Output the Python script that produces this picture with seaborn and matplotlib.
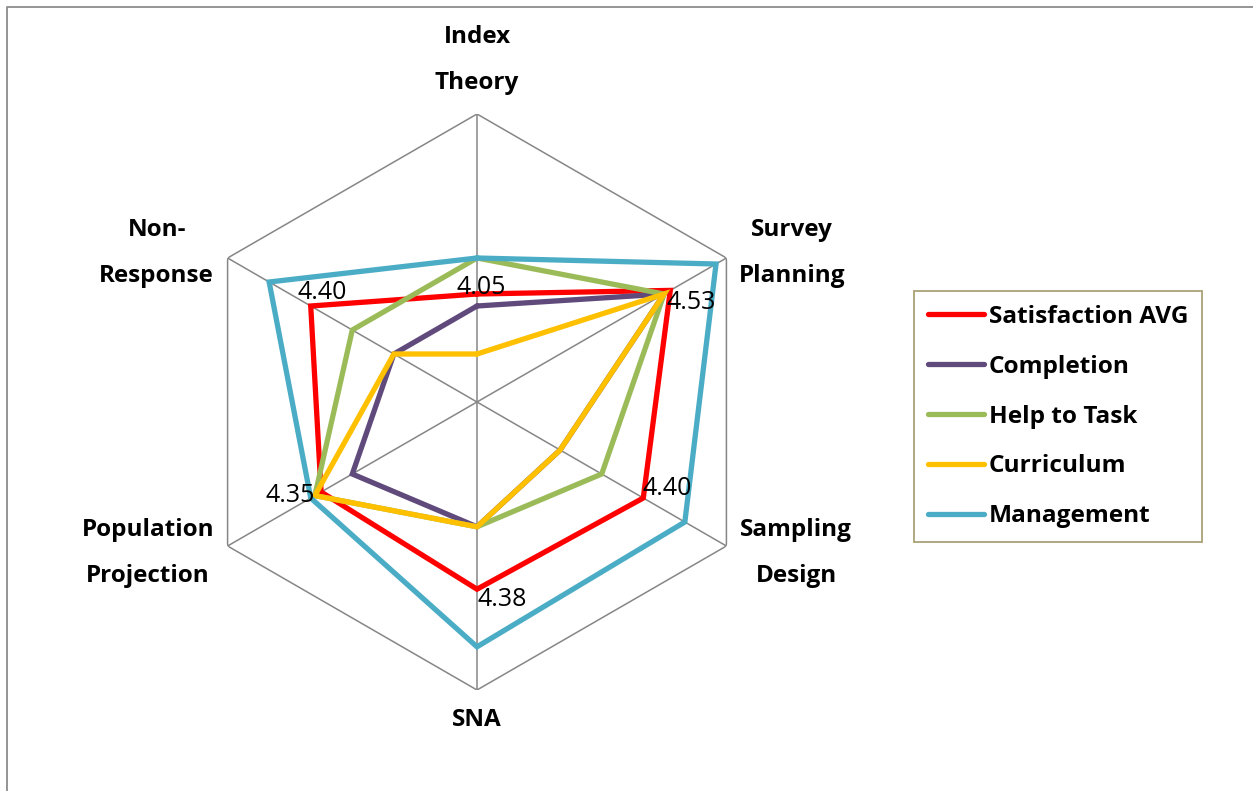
import numpy as np
import pandas as pd
import matplotlib
matplotlib.use('Agg')
import matplotlib.pyplot as plt
from matplotlib.lines import Line2D
import seaborn as sns

# Datos
categories = ['Index\nTheory', 'Survey\nPlanning', 'Sampling\nDesign', 'SNA',
              'Population\nProjection', 'Non-\nResponse']
series_names = ['Satisfaction AVG', 'Completion', 'Help to Task', 'Curriculum', 'Management']
satisfaction = [4.05, 4.53, 4.40, 4.38, 4.35, 4.40]
completion = [4.00, 4.50, 4.00, 4.12, 4.20, 4.00]
help_to_task = [4.20, 4.50, 4.20, 4.12, 4.38, 4.20]
curriculum = [3.80, 4.50, 4.00, 4.12, 4.38, 4.00]
management = [4.20, 4.75, 4.60, 4.62, 4.40, 4.60]
r_min, r_max = 3.6, 4.8

colors = ['#FF0000', '#604A7B', '#9BBB59', '#FFC000', '#4BACC6']
grid_color = '#868686'

sns.set_style('white')
plt.rcParams['font.family'] = ['Open Sans', 'Noto Sans', 'DejaVu Sans']
plt.rcParams['text.color'] = 'black'

W, H = 1253, 791
fig = plt.figure(figsize=(W / 100, H / 100), dpi=100)

# Centro (477, 402) px, radio 288 px
cx, cy, R = 477, 402, 288
ax = fig.add_axes([(cx - R) / W, (H - cy - R) / H, 2 * R / W, 2 * R / H], projection='polar')
ax.set_theta_offset(np.pi / 2)
ax.set_theta_direction(-1)
ax.set_ylim(r_min, r_max)
ax.grid(False)
ax.spines['polar'].set_visible(False)
ax.set_xticks([])
ax.set_yticks([])
ax.patch.set_alpha(0)

n = len(categories)
angles = np.arange(n) * 2 * np.pi / n
angles_closed = np.append(angles, 2 * np.pi)

# Rejilla hexagonal
for a in angles:
    ax.plot([a, a], [r_min, r_max], color=grid_color, lw=1.1, zorder=1)
ax.plot(angles_closed, [r_max] * (n + 1), color=grid_color, lw=1.1, zorder=1)

# Tabla larga para seaborn
values = [satisfaction, completion, help_to_task, curriculum, management]
rows = []
for name, vals in zip(series_names, values):
    for a, v in zip(angles_closed, list(vals) + [vals[0]]):
        rows.append({'series': name, 'theta': a, 'value': v})
df = pd.DataFrame(rows)

sns.lineplot(data=df, x='theta', y='value', hue='series', hue_order=series_names,
             palette=colors, sort=False, estimator=None, linewidth=3.8,
             solid_joinstyle='miter', legend=False, ax=ax, zorder=3)
ax.set_xlabel('')
ax.set_ylabel('')
ax.set_ylim(r_min, r_max)

# Etiquetas de datos (serie Satisfaction AVG)
label_offsets = [(3, 5), (15, -8.6), (17, 6.5), (18, -7.2), (-22, -2.2), (8.6, 9.4)]
for a, v, off in zip(angles, satisfaction, label_offsets):
    ax.annotate(f'{v:.2f}', xy=(a, v), xytext=off, textcoords='offset points',
                ha='center', va='center', fontsize=18, color='black', zorder=5)

# Etiquetas de categorías (fracción de ejes)
cat_pos = [(0.5, 1.094), (1.047, 0.759), (1.054, 0.238), (0.5, -0.052),
           (-0.071, 0.238), (-0.056, 0.759)]
for txt, (x, y) in zip(categories, cat_pos):
    ax.text(x, y, txt, transform=ax.transAxes, ha='center', va='center',
            fontsize=17.5, fontweight='bold', linespacing=2.2, color='black')

# Leyenda
handles = [Line2D([0], [0], color=c, lw=3.8, solid_capstyle='round') for c in colors]
leg = fig.legend(handles, series_names, loc='upper left',
                 bbox_to_anchor=(914 / W, 1 - 291 / H), frameon=True, fancybox=False,
                 edgecolor='#948A54', borderaxespad=0, handlelength=2.3,
                 handletextpad=0.2, labelspacing=1.06, borderpad=0.56,
                 prop={'size': 17.6, 'weight': 'bold'})
leg.get_frame().set_linewidth(1.3)
for t in leg.get_texts():
    t.set_color('black')

# Borde del área del gráfico (izquierda y arriba)
bx, by = 6.7 / W, 1 - 7.3 / H
fig.add_artist(Line2D([bx, bx, 1], [0, by, by], color='#8C8C8C', lw=1.3,
                      transform=fig.transFigure))

fig.savefig('out.png', dpi=100)
